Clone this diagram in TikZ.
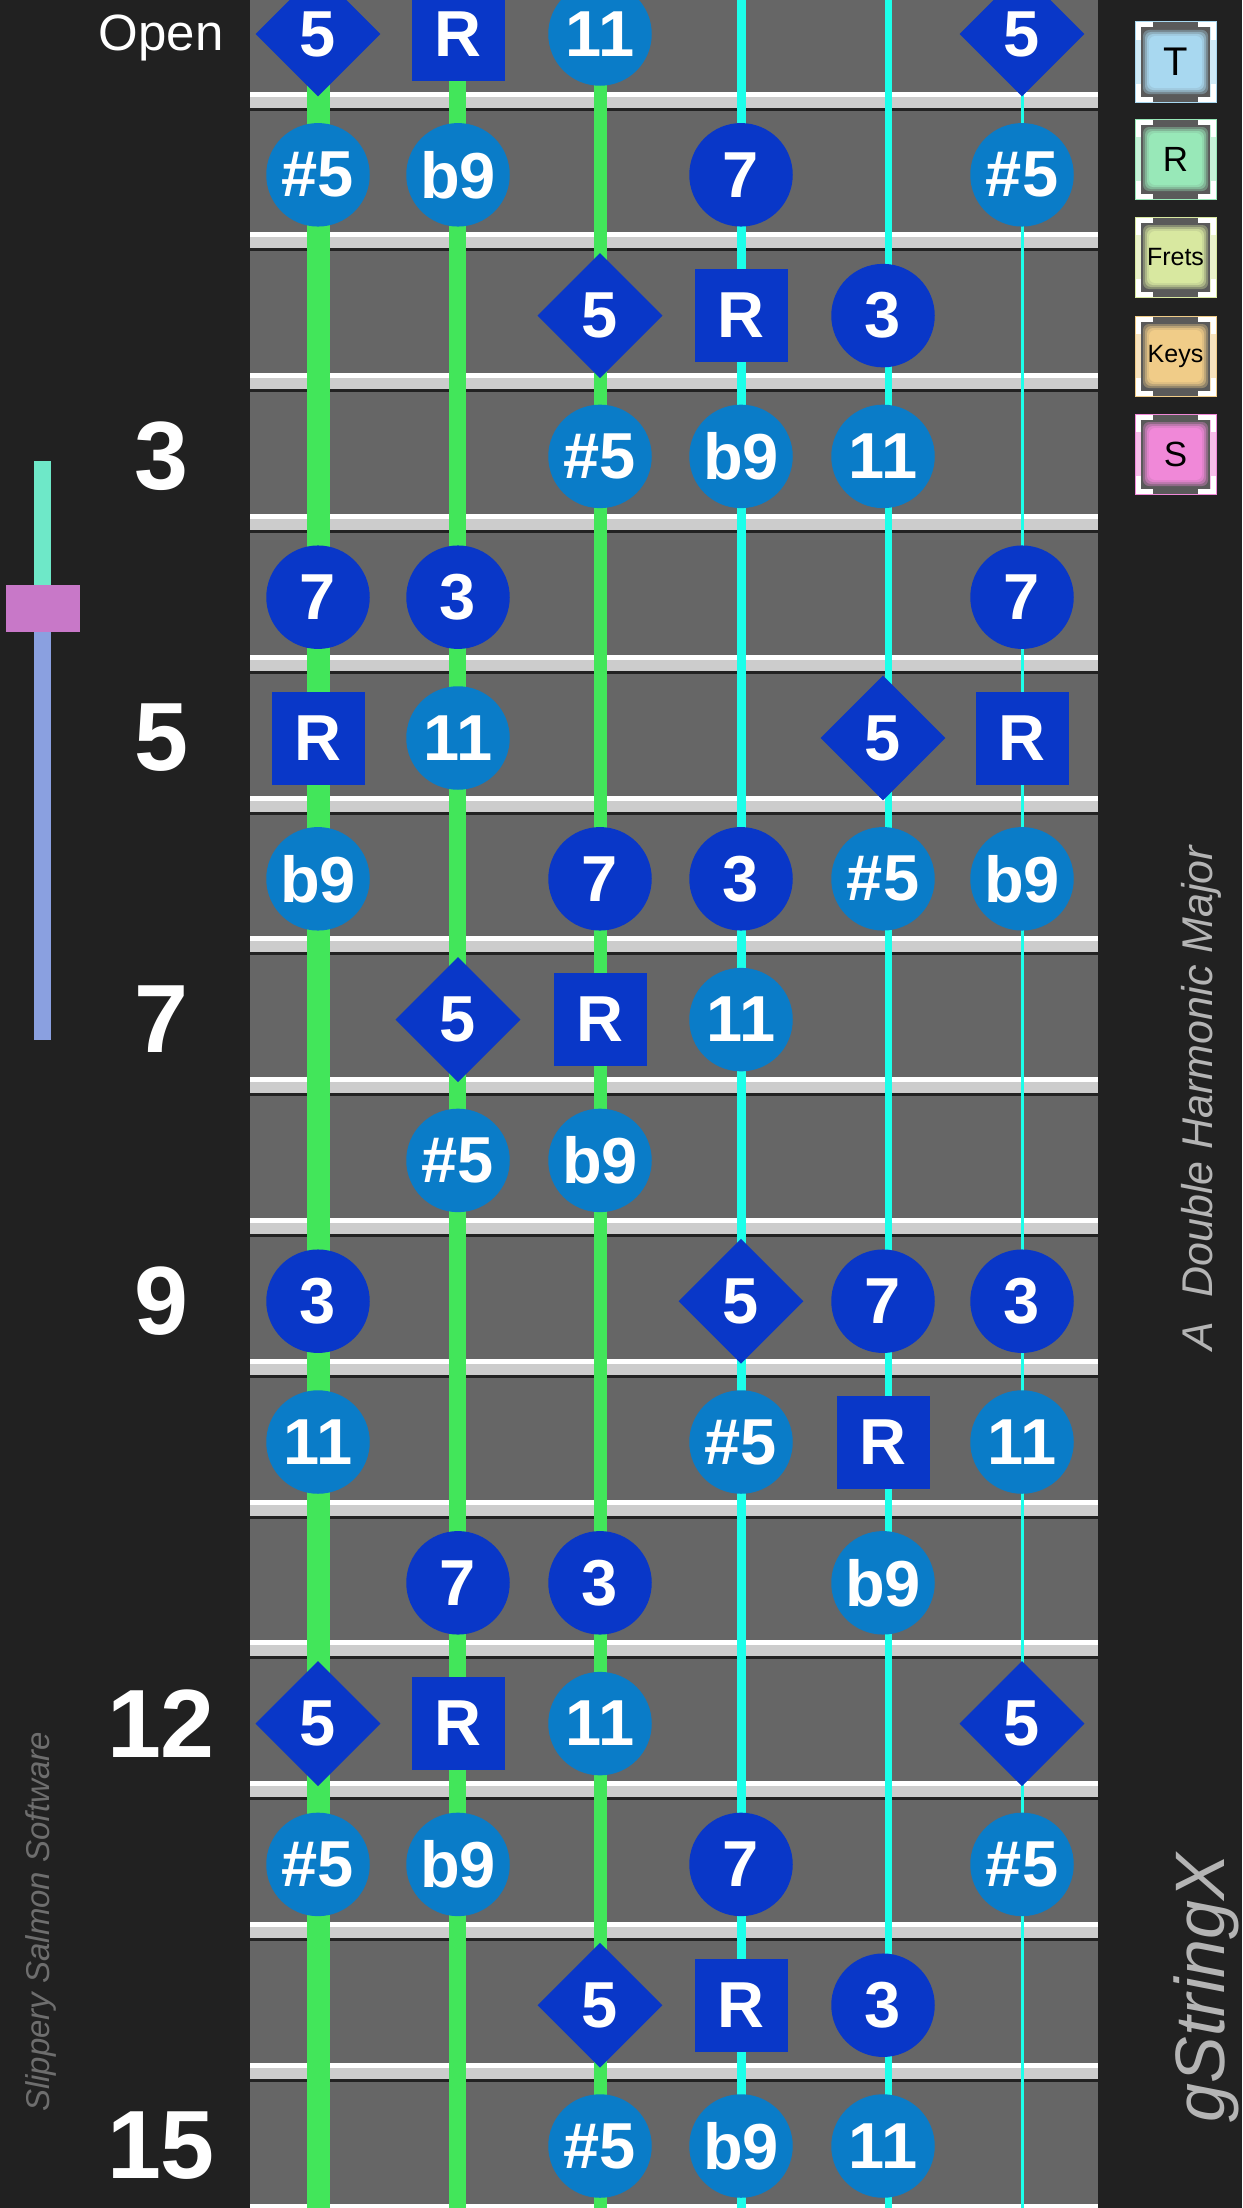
\documentclass[tikz,border=0pt]{standalone}
\usepackage{fontspec}
\setmainfont{Liberation Sans}
\usetikzlibrary{shapes.geometric}

\definecolor{panel}{HTML}{212121}
\definecolor{board}{HTML}{666666}
\definecolor{fretgray}{HTML}{CCCCCC}
\definecolor{fretdark}{HTML}{222222}
\definecolor{strgreen}{HTML}{42E65A}
\definecolor{strcyan}{HTML}{1CFFEA}
\definecolor{darkblue}{HTML}{0937C8}
\definecolor{lightblue}{HTML}{0A7CC8}
\definecolor{sidegray}{HTML}{B4B4B4}
\definecolor{dimgray}{HTML}{6E6E6E}
\definecolor{btngray}{HTML}{5A5A5A}
\definecolor{btnT}{HTML}{A8D8F0}
\definecolor{btnR}{HTML}{98E8B8}
\definecolor{btnF}{HTML}{D8E8A0}
\definecolor{btnK}{HTML}{F0CC88}
\definecolor{btnS}{HTML}{F088D8}
\definecolor{sltop}{HTML}{6EE8C8}
\definecolor{slbottom}{HTML}{8AA0E0}
\definecolor{slknob}{HTML}{C878C8}

\begin{document}
\begin{tikzpicture}[x=1pt,y=-1pt,
  note/.style={text=white,font=\fontsize{65}{65}\selectfont\bfseries,inner sep=0pt},
  dk/.style={note,circle,fill=darkblue,minimum size=103.5pt},
  lt/.style={note,circle,fill=lightblue,minimum size=103.5pt},
  root/.style={note,rectangle,fill=darkblue,minimum size=93pt},
  fifth/.style={note,diamond,aspect=1,fill=darkblue,minimum width=125pt,minimum height=125pt},
  fretnum/.style={text=white,font=\fontsize{97}{97}\selectfont\bfseries},
  side/.style={rotate=90,font=\itshape},
  pics/gbutton/.style n args={3}{code={
    \path[fill=btngray,draw=#1,line width=1pt] (0,0) rectangle (81,80);
    \path[fill=#1!35!btngray,rounded corners=6pt] (8,8) rectangle (73,72);
    \path[fill=#1!65!btngray,rounded corners=6pt] (10,10) rectangle (71,70);
    \path[fill=#1!88!btngray,rounded corners=6pt] (12,12) rectangle (69,68);
    \path[fill=#1,rounded corners=6pt] (14,14) rectangle (67,66);
    \path[fill=#1!55!white] (0.5,0.5) rectangle (6,79.5);
    \path[fill=#1!55!white] (75,0.5) rectangle (80.5,79.5);
    \path[draw=white,line width=5pt] (18,3) -- (3,3) -- (3,18);
    \path[draw=white,line width=5pt] (18,77) -- (3,77) -- (3,62);
    \path[draw=white,line width=5pt] (63,3) -- (78,3) -- (78,18);
    \path[draw=white,line width=5pt] (63,77) -- (78,77) -- (78,62);
    \node[text=black,font=\fontsize{#3}{#3}\selectfont] (-lbl) at (40.5,40) {#2};
  }}]
\path[use as bounding box] (0,0) rectangle (1242,2208);

% panels and neck
\path[fill=panel] (0,0) rectangle (1242,2208);
\path[fill=board] (250,0) rectangle (1098,2208);

% frets
\foreach \n in {0,...,15}{
  \path[fill=white] (250,{91.5+140.8*\n}) rectangle (1098,{96.5+140.8*\n});
  \path[fill=fretgray] (250,{96.5+140.8*\n}) rectangle (1098,{107.5+140.8*\n});
  \path[fill=fretdark] (250,{107.5+140.8*\n}) rectangle (1098,{110.5+140.8*\n});
}

% strings
\path[draw=strgreen,line width=23pt] (318.5,0) -- (318.5,2208);
\path[draw=strgreen,line width=17pt] (457.5,0) -- (457.5,2208);
\path[draw=strgreen,line width=13pt] (600,0) -- (600,2208);
\path[draw=strcyan,line width=9pt] (741.5,0) -- (741.5,2208);
\path[draw=strcyan,line width=7pt] (888.5,0) -- (888.5,2208);
\path[draw=strcyan,line width=3.5pt] (1022.5,0) -- (1022.5,2208);

% notes
\node[fifth] (0a) at (318,34) {5};
\node[root] (0b) at (458,34) {R};
\node[lt] (0c) at (600,34) {11};
\node[fifth] (0f) at (1022,34) {5};

\node[lt] (1a) at (318,34+140.8) {\#5};
\node[lt] (1b) at (458,34+140.8) {b9};
\node[dk] (1d) at (741,34+140.8) {7};
\node[lt] (1f) at (1022,34+140.8) {\#5};

\node[fifth] (2c) at (600,34+140.8*2) {5};
\node[root] (2d) at (741,34+140.8*2) {R};
\node[dk] (2e) at (883,34+140.8*2) {3};

\node[lt] (3c) at (600,34+140.8*3) {\#5};
\node[lt] (3d) at (741,34+140.8*3) {b9};
\node[lt] (3e) at (883,34+140.8*3) {11};

\node[dk] (4a) at (318,34+140.8*4) {7};
\node[dk] (4b) at (458,34+140.8*4) {3};
\node[dk] (4f) at (1022,34+140.8*4) {7};

\node[root] (5a) at (318,34+140.8*5) {R};
\node[lt] (5b) at (458,34+140.8*5) {11};
\node[fifth] (5e) at (883,34+140.8*5) {5};
\node[root] (5f) at (1022,34+140.8*5) {R};

\node[lt] (6a) at (318,34+140.8*6) {b9};
\node[dk] (6c) at (600,34+140.8*6) {7};
\node[dk] (6d) at (741,34+140.8*6) {3};
\node[lt] (6e) at (883,34+140.8*6) {\#5};
\node[lt] (6f) at (1022,34+140.8*6) {b9};

\node[fifth] (7b) at (458,34+140.8*7) {5};
\node[root] (7c) at (600,34+140.8*7) {R};
\node[lt] (7d) at (741,34+140.8*7) {11};

\node[lt] (8b) at (458,34+140.8*8) {\#5};
\node[lt] (8c) at (600,34+140.8*8) {b9};

\node[dk] (9a) at (318,34+140.8*9) {3};
\node[fifth] (9d) at (741,34+140.8*9) {5};
\node[dk] (9e) at (883,34+140.8*9) {7};
\node[dk] (9f) at (1022,34+140.8*9) {3};

\node[lt] (10a) at (318,34+140.8*10) {11};
\node[lt] (10d) at (741,34+140.8*10) {\#5};
\node[root] (10e) at (883,34+140.8*10) {R};
\node[lt] (10f) at (1022,34+140.8*10) {11};

\node[dk] (11b) at (458,34+140.8*11) {7};
\node[dk] (11c) at (600,34+140.8*11) {3};
\node[lt] (11e) at (883,34+140.8*11) {b9};

\node[fifth] (12a) at (318,34+140.8*12) {5};
\node[root] (12b) at (458,34+140.8*12) {R};
\node[lt] (12c) at (600,34+140.8*12) {11};
\node[fifth] (12f) at (1022,34+140.8*12) {5};

\node[lt] (13a) at (318,34+140.8*13) {\#5};
\node[lt] (13b) at (458,34+140.8*13) {b9};
\node[dk] (13d) at (741,34+140.8*13) {7};
\node[lt] (13f) at (1022,34+140.8*13) {\#5};

\node[fifth] (14c) at (600,34+140.8*14) {5};
\node[root] (14d) at (741,34+140.8*14) {R};
\node[dk] (14e) at (883,34+140.8*14) {3};

\node[lt] (15c) at (600,34+140.8*15) {\#5};
\node[lt] (15d) at (741,34+140.8*15) {b9};
\node[lt] (15e) at (883,34+140.8*15) {11};

% fret numbers
\node[text=white,font=\fontsize{51}{51}\selectfont] (open) at (161,38) {Open};
\node[fretnum] (f3) at (161,34+140.8*3) {3};
\node[fretnum] (f5) at (161,34+140.8*5) {5};
\node[fretnum] (f7) at (161,34+140.8*7) {7};
\node[fretnum] (f9) at (161,34+140.8*9) {9};
\node[fretnum] (f12) at (161,34+140.8*12) {12};
\node[fretnum] (f15) at (161,34+140.8*15) {15};

% slider
\path[fill=sltop] (34,460.5) rectangle (51,585);
\path[fill=slbottom] (34,632) rectangle (51,1040);
\path[fill=slknob] (6,585) rectangle (80,632);

% buttons
\pic (bT) at (1135,22) {gbutton={btnT}{T}{40}};
\pic (bR) at (1135,119) {gbutton={btnR}{R}{35}};
\pic (bF) at (1135,217) {gbutton={btnF}{Frets}{25}};
\pic (bK) at (1135,316) {gbutton={btnK}{Keys}{25}};
\pic (bS) at (1135,414) {gbutton={btnS}{S}{35}};

% side texts
\node[side,text=sidegray,font=\fontsize{43}{43}\selectfont\itshape] (scale) at (1201,1098) {A\ \ Double Harmonic Major};
\node[side,text=dimgray,font=\fontsize{33}{33}\selectfont\itshape] (maker) at (41,1922) {Slippery Salmon Software};
\node[side,text=sidegray,font=\fontsize{70}{70}\selectfont\itshape] (app) at (1206,1988) {gStringX};
\end{tikzpicture}
\end{document}
